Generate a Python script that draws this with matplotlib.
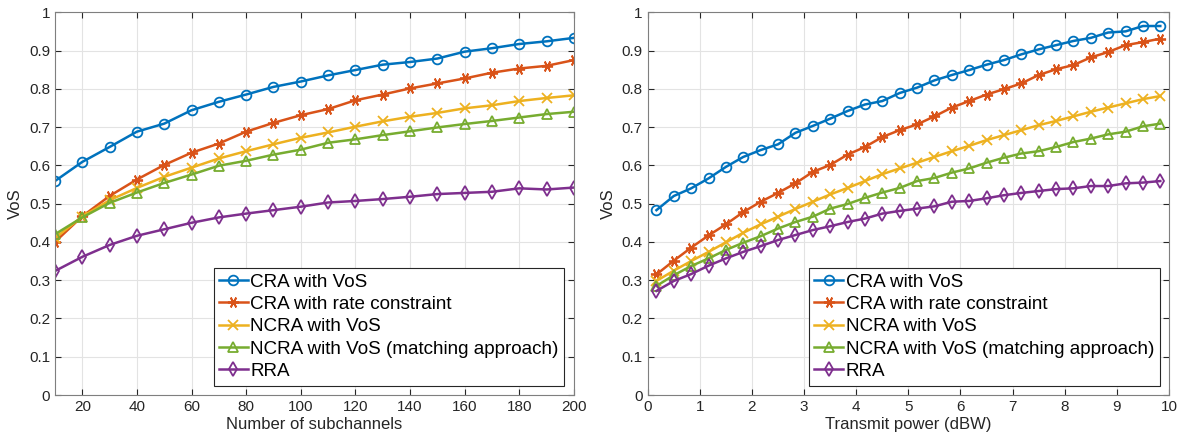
import matplotlib.pyplot as plt

plt.rcParams['font.family'] = ['Liberation Sans', 'DejaVu Sans']

# Left panel: VoS vs number of subchannels
subchannels = [10, 20, 30, 40, 50, 60, 70, 80, 90, 100,
               110, 120, 130, 140, 150, 160, 170, 180, 190, 200]
left_cra_vos = [0.559, 0.609, 0.648, 0.688, 0.709, 0.744, 0.766, 0.785, 0.805, 0.819,
                0.835, 0.849, 0.863, 0.870, 0.879, 0.897, 0.906, 0.917, 0.924, 0.933]
left_cra_rate = [0.400, 0.467, 0.520, 0.563, 0.601, 0.633, 0.657, 0.688, 0.711, 0.731,
                 0.747, 0.770, 0.785, 0.801, 0.814, 0.827, 0.842, 0.853, 0.860, 0.875]
left_ncra_vos = [0.410, 0.466, 0.509, 0.541, 0.570, 0.594, 0.618, 0.637, 0.655, 0.672,
                 0.686, 0.701, 0.715, 0.727, 0.737, 0.749, 0.757, 0.768, 0.776, 0.783]
left_ncra_match = [0.420, 0.464, 0.502, 0.529, 0.554, 0.576, 0.599, 0.612, 0.628, 0.641,
                   0.659, 0.668, 0.679, 0.689, 0.699, 0.708, 0.716, 0.725, 0.734, 0.740]
left_rra = [0.324, 0.361, 0.392, 0.416, 0.433, 0.450, 0.464, 0.474, 0.483, 0.492,
            0.503, 0.507, 0.512, 0.518, 0.525, 0.528, 0.531, 0.540, 0.537, 0.542]

# Right panel: VoS vs transmit power (dBW)
power = [0.167, 0.5, 0.833, 1.167, 1.5, 1.833, 2.167, 2.5, 2.833, 3.167,
         3.5, 3.833, 4.167, 4.5, 4.833, 5.167, 5.5, 5.833, 6.167, 6.5,
         6.833, 7.167, 7.5, 7.833, 8.167, 8.5, 8.833, 9.167, 9.5, 9.833]
right_cra_vos = [0.483, 0.520, 0.540, 0.566, 0.596, 0.622, 0.640, 0.655, 0.685, 0.703,
                 0.722, 0.742, 0.759, 0.768, 0.789, 0.803, 0.822, 0.836, 0.849, 0.863,
                 0.875, 0.890, 0.903, 0.914, 0.925, 0.933, 0.947, 0.950, 0.964, 0.964]
right_cra_rate = [0.315, 0.351, 0.385, 0.417, 0.446, 0.478, 0.505, 0.528, 0.553, 0.583,
                  0.601, 0.628, 0.648, 0.674, 0.692, 0.707, 0.728, 0.751, 0.768, 0.785,
                  0.799, 0.814, 0.836, 0.851, 0.862, 0.882, 0.896, 0.914, 0.922, 0.931]
right_ncra_vos = [0.298, 0.325, 0.350, 0.374, 0.399, 0.424, 0.446, 0.466, 0.486, 0.505,
                  0.524, 0.541, 0.559, 0.577, 0.592, 0.607, 0.622, 0.637, 0.651, 0.666,
                  0.679, 0.692, 0.705, 0.716, 0.728, 0.740, 0.751, 0.762, 0.773, 0.781]
right_ncra_match = [0.285, 0.313, 0.337, 0.357, 0.379, 0.398, 0.415, 0.435, 0.452, 0.466,
                    0.487, 0.499, 0.515, 0.529, 0.541, 0.559, 0.567, 0.581, 0.592, 0.607,
                    0.620, 0.631, 0.637, 0.648, 0.661, 0.670, 0.681, 0.688, 0.702, 0.709]
right_rra = [0.272, 0.298, 0.316, 0.338, 0.357, 0.374, 0.389, 0.405, 0.418, 0.431,
             0.441, 0.452, 0.461, 0.474, 0.481, 0.487, 0.493, 0.505, 0.507, 0.514,
             0.522, 0.528, 0.533, 0.538, 0.540, 0.546, 0.546, 0.553, 0.555, 0.559]

labels = ['CRA with VoS', 'CRA with rate constraint', 'NCRA with VoS',
          'NCRA with VoS (matching approach)', 'RRA']
colors = ['#0072BD', '#D95319', '#EDB120', '#77AC30', '#7E2F8E']
markers = ['o', (6, 2, 90), 'x', '^', 'd']
sizes = [7, 8, 7, 7, 7]

fig = plt.figure(figsize=(11.82, 4.37), dpi=100)
ax1 = fig.add_axes([0.0465, 0.096, 0.439, 0.876])
ax2 = fig.add_axes([0.548, 0.096, 0.441, 0.876])

left_series = [left_cra_vos, left_cra_rate, left_ncra_vos, left_ncra_match, left_rra]
right_series = [right_cra_vos, right_cra_rate, right_ncra_vos, right_ncra_match, right_rra]

for ax, xs, series in [(ax1, subchannels, left_series), (ax2, power, right_series)]:
    for ys, lab, c, m, s in zip(series, labels, colors, markers, sizes):
        ax.plot(xs, ys, color=c, marker=m, markersize=s, markerfacecolor='none',
                markeredgewidth=1.3, linewidth=1.8, label=lab)
    ax.set_ylim(0, 1)
    ax.set_yticks([i / 10 for i in range(11)])
    ax.set_yticklabels(['0', '0.1', '0.2', '0.3', '0.4', '0.5', '0.6', '0.7', '0.8', '0.9', '1'])
    ax.grid(True, color='#e3e3e3', linewidth=0.8)
    ax.set_axisbelow(True)
    ax.tick_params(direction='in', top=True, right=True, labelsize=11,
                   colors='#262626', length=4)
    for sp in ax.spines.values():
        sp.set_color('#7f7f7f')
        sp.set_linewidth(0.8)
    ax.set_ylabel('VoS', fontsize=12, color='#262626', labelpad=4)
    leg = ax.legend(loc='lower right', fontsize=13.6, handlelength=1.5,
                    handletextpad=0.15, labelspacing=0.27, borderpad=0.3,
                    fancybox=False, framealpha=1, borderaxespad=0.5)
    leg.get_frame().set_edgecolor('#262626')
    leg.get_frame().set_linewidth(0.8)

ax1.set_xlim(10, 200)
ax1.set_xticks([20, 40, 60, 80, 100, 120, 140, 160, 180, 200])
ax1.set_xlabel('Number of subchannels', fontsize=12, color='#262626', labelpad=2)

ax2.set_xlim(0, 10)
ax2.set_xticks(range(11))
ax2.set_xlabel('Transmit power (dBW)', fontsize=12, color='#262626', labelpad=2)

fig.savefig('out.png', dpi=100)
